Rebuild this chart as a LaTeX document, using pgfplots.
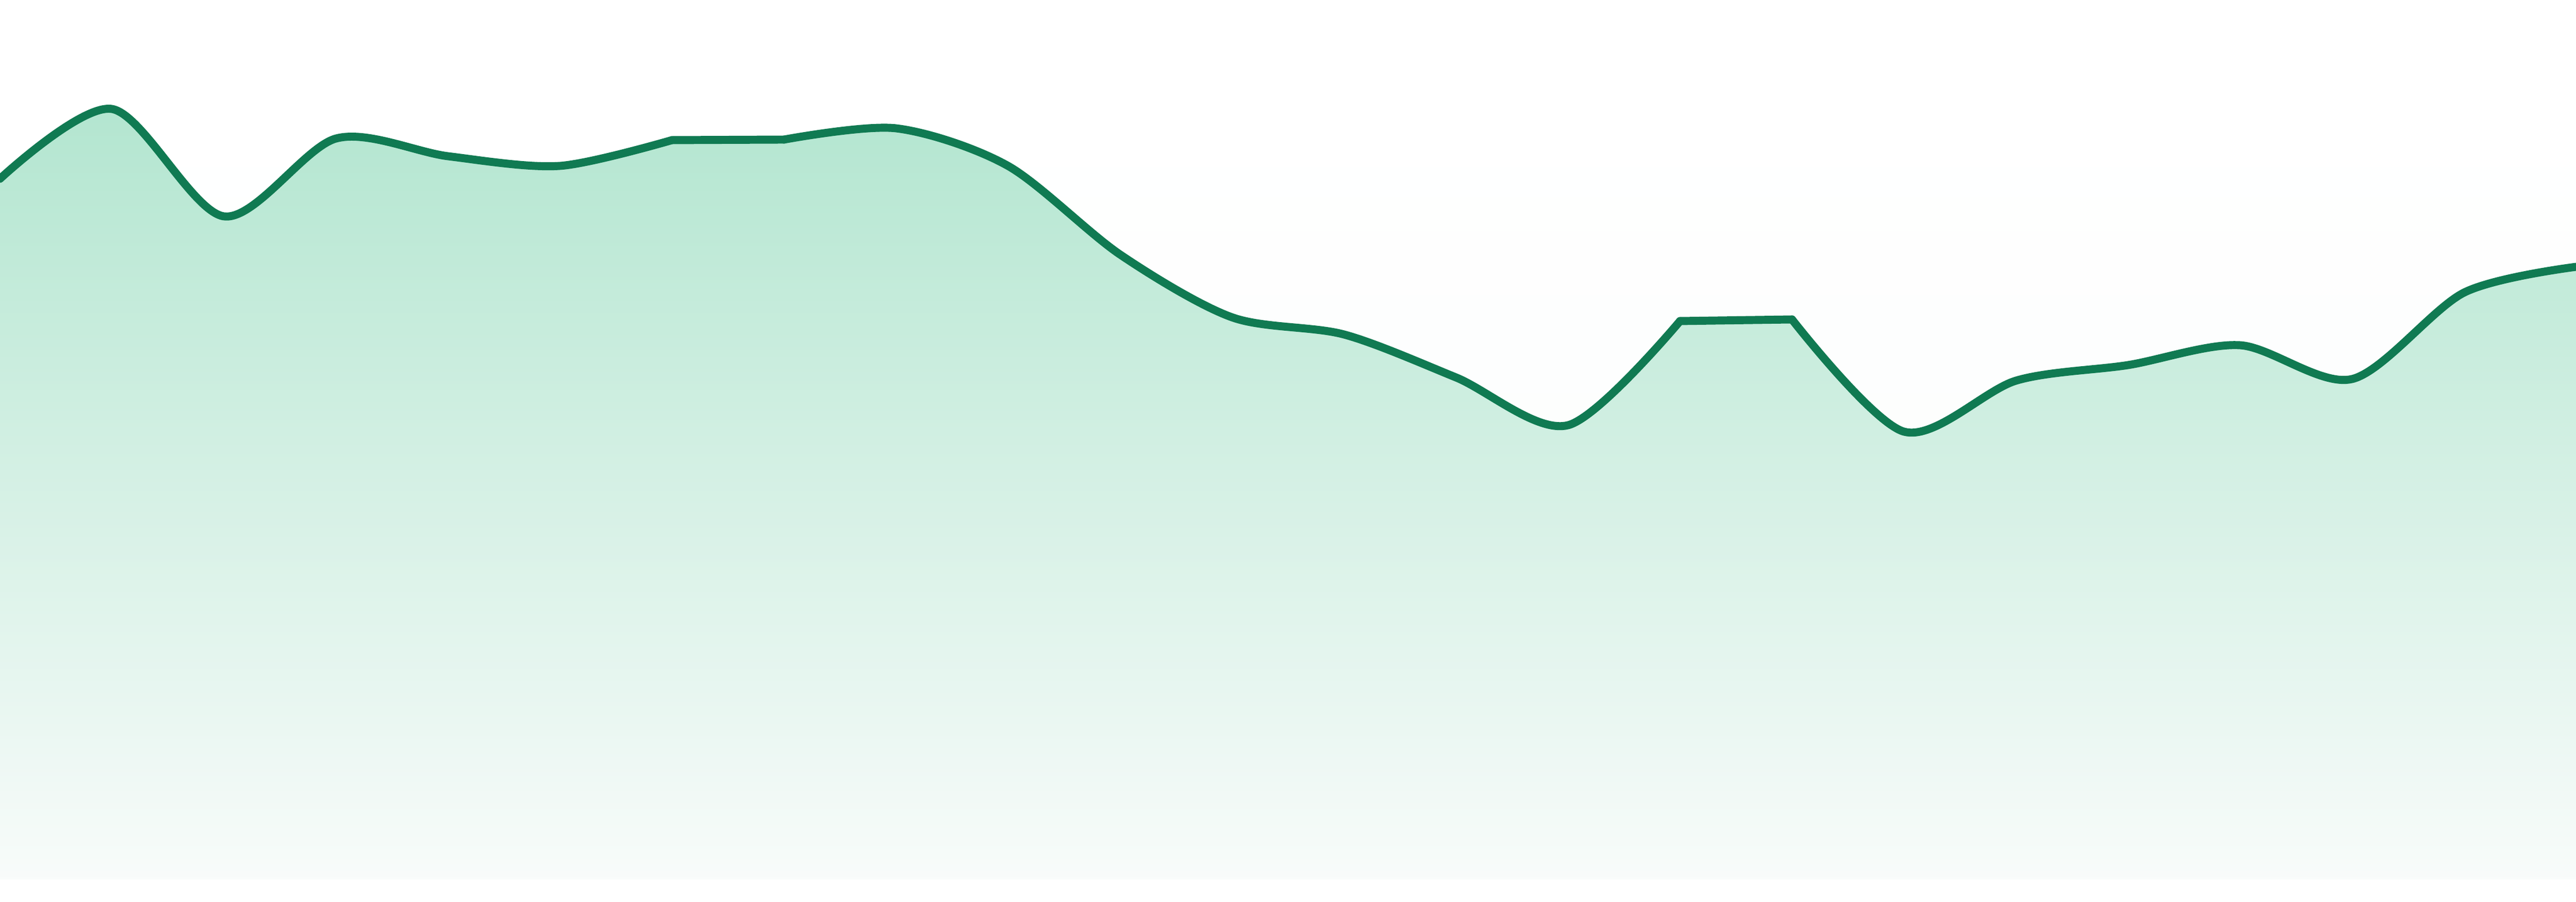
\documentclass[border=0pt]{standalone}
\usepackage{pgfplots}
\pgfplotsset{compat=1.18}
\usetikzlibrary{fadings}

\definecolor{linegreen}{RGB}{16,122,82}
\definecolor{filltop}{RGB}{179,230,208}
\definecolor{fillbottom}{RGB}{249,252,251}

% opaque at the bottom, clear at the top
\tikzfading[name=fadeup, top color=transparent!100, bottom color=transparent!0]

% one series, y measured upward from the bottom of the filled area
\pgfplotstableread{
x   y
0   1299
1   1429
2   1229
3   1374
4   1341
5   1323
6   1371
7   1372
8   1393
9   1323
10  1158
11  1041
12  1009
13  929
14  840
15  1034
16  1037
17  828
18  923
19  952
20  989
21  926
22  1087
23  1135
}\series

% the two level stretches (6-7, 15-16) are drawn straight, the rest smooth
\pgfplotsset{
    area/.style={fill=filltop, draw=filltop, line width=0.6pt},
    curve/.style={linegreen, line width=4.25pt, line cap=round, line join=round},
}

\begin{document}
\begin{tikzpicture}
\useasboundingbox (0,0) rectangle (48cm,16.8cm);
\begin{axis}[
    at={(0,0)}, anchor=south west,
    width=48cm,
    height=16.8cm,
    scale only axis,
    hide axis,
    xmin=0, xmax=23,
    ymin=-48, ymax=1632,
]
\addplot[area, smooth] table[restrict x to domain=0:6] {\series} \closedcycle;
\addplot[area] table[restrict x to domain=6:7] {\series} \closedcycle;
\addplot[area, smooth] table[restrict x to domain=7:15] {\series} \closedcycle;
\addplot[area] table[restrict x to domain=15:16] {\series} \closedcycle;
\addplot[area, smooth] table[restrict x to domain=16:23] {\series} \closedcycle;

\fill[fillbottom, path fading=fadeup] (axis cs:0,-6) rectangle (axis cs:23,1442);

\addplot[curve, smooth] table[restrict x to domain=0:6] {\series};
\addplot[curve] table[restrict x to domain=6:7] {\series};
\addplot[curve, smooth] table[restrict x to domain=7:15] {\series};
\addplot[curve] table[restrict x to domain=15:16] {\series};
\addplot[curve, smooth] table[restrict x to domain=16:23] {\series};
\end{axis}
\end{tikzpicture}
\end{document}
